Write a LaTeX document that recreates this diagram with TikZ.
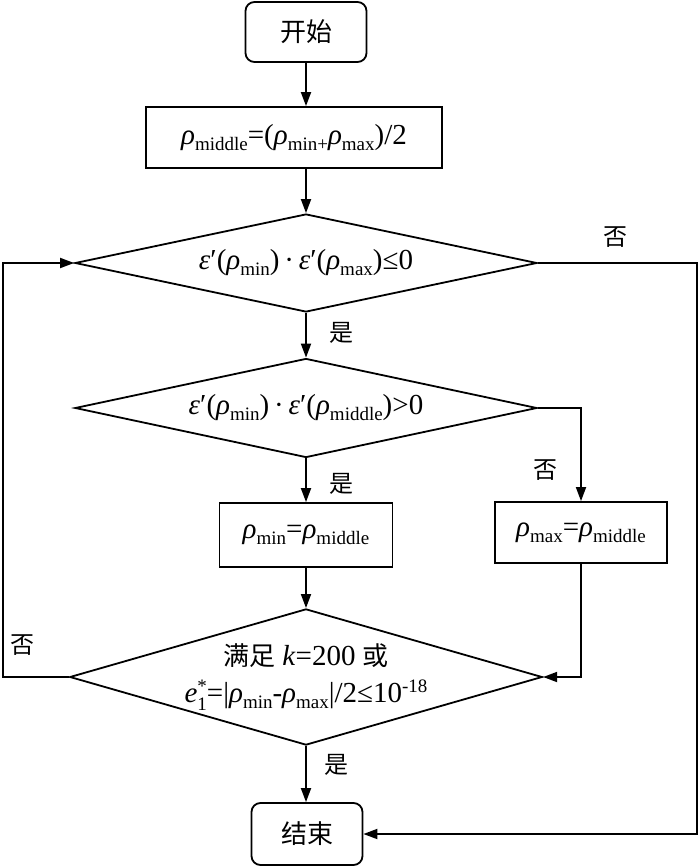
\documentclass[tikz,border=0pt]{standalone}
\usepackage{fontspec}
\setmainfont{Liberation Serif}
\newfontfamily\cjk{Noto Sans CJK SC}
\usetikzlibrary{shapes.geometric,arrows.meta}
\newcommand{\lo}[1]{\raisebox{-0.45ex}{\fontsize{19}{19}\selectfont #1}}
\newcommand{\hi}[1]{\raisebox{0.75ex}{\fontsize{19}{19}\selectfont #1}}
\newcommand{\rh}{\textit{ρ}}
\newcommand{\eps}{\textit{ε}′}
\begin{document}
\begin{tikzpicture}[x=1pt,y=-1pt,
  every node/.style={font=\fontsize{29}{32}\selectfont},
  proc/.style={draw, line width=1.8pt, inner sep=0pt},
  term/.style={proc, rounded corners=9pt},
  dec/.style={draw, line width=1.8pt, diamond, inner sep=0pt},
  cj/.style={font=\cjk\fontsize{26}{26}\selectfont},
  lab/.style={font=\cjk\fontsize{24}{24}\selectfont},
  arr/.style={line width=1.8pt, -{Triangle[length=14pt,width=10pt]}}]
\useasboundingbox (0,0) rectangle (700,866);

\node[term, cj, minimum width=121pt, minimum height=60pt] (s) at (306,32) {开始};
\node[proc, minimum width=296pt, minimum height=61pt] (b2) at (294,137.5)
  {\rh\lo{middle}=(\rh\lo{min+}\rh\lo{max})/2};
\node[dec, minimum width=462pt, minimum height=98pt, aspect=4.7] (d1) at (306,263)
  {\eps(\rh\lo{min})\,·\,\eps(\rh\lo{max})≤0};
\node[dec, minimum width=462pt, minimum height=99pt, aspect=4.7] (d2) at (306,408)
  {\eps(\rh\lo{min})\,·\,\eps(\rh\lo{middle})>0};
\node[proc, minimum width=173pt, minimum height=64pt] (bmin) at (306,535)
  {\rh\lo{min}=\rh\lo{middle}};
\node[proc, minimum width=172pt, minimum height=61pt] (bmax) at (581,532.5)
  {\rh\lo{max}=\rh\lo{middle}};
\node[dec, minimum width=468pt, minimum height=135pt, aspect=3.47, align=center] (d3) at (306,677)
  {{\cjk\fontsize{26}{26}\selectfont 满足} \textit{k}=200 {\cjk\fontsize{26}{26}\selectfont 或}\\[5pt]
   \textit{e}\makebox[0pt][l]{\raisebox{-0.55ex}{\fontsize{19}{19}\selectfont 1}}\raisebox{0.8ex}{\fontsize{19}{19}\selectfont *}=|\rh\lo{min}-\rh\lo{max}|/2≤10\hi{-18}};
\node[term, cj, minimum width=111pt, minimum height=62pt] (e) at (307,834) {结束};

\node[lab] (n1) at (615,237) {否};
\node[lab] (y1) at (341,333) {是};
\node[lab] (y2) at (341,484) {是};
\node[lab] (n2) at (545,470) {否};
\node[lab] (n3) at (22,645) {否};
\node[lab] (y3) at (336,765) {是};

\coordinate (r) at (697,263);
\coordinate (l) at (3,677);

\draw[arr] (s.south) -- (s.south |- b2.north);
\draw[arr] (d1.north |- b2.south) -- (d1.north);
\draw[arr] (d1.south) -- (d2.north);
\draw[arr] (d2.south) -- (bmin.north);
\draw[arr] (bmin.south) -- (d3.north);
\draw[arr] (d3.south) -- (d3.south |- e.north);
\draw[arr] (d1.east) -- (r) |- (e.east);
\draw[arr] (d2.east) -| (bmax.north);
\draw[arr] (bmax.south) |- (d3.east);
\draw[arr] (d3.west) -- (l) |- (d1.west);
\end{tikzpicture}
\end{document}
